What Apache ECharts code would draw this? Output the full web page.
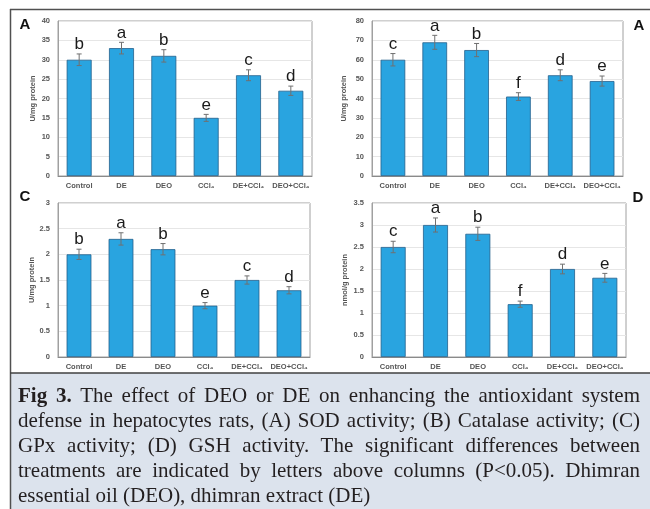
<!DOCTYPE html>
<html>
<head>
<meta charset="utf-8">
<script src="https://cdn.jsdelivr.net/npm/echarts@6/dist/echarts.min.js"></script>
<style>
  html, body { margin: 0; padding: 0; background: #ffffff; }
  #wrap { position: relative; width: 650px; height: 509px; overflow: hidden; }
  #chart { position: absolute; left: 0; top: 0; width: 650px; height: 509px; }
  #caption {
    position: absolute; left: 18px; top: 383px; width: 622px;
    font-family: 'Liberation Serif', 'Times New Roman', serif;
    font-size: 21px; line-height: 25px; color: #231f20;
  }
  #caption .ln { text-align: justify; text-align-last: justify; white-space: nowrap; }
  #caption .ln.last { text-align: left; text-align-last: left; }
</style>
</head>
<body>
<div id="wrap">
  <div id="chart"></div>
  <div id="caption">
    <div class="ln"><b>Fig 3.</b> The effect of DEO or DE on enhancing the antioxidant system</div>
    <div class="ln">defense in hepatocytes rats, (A) SOD activity; (B) Catalase activity; (C)</div>
    <div class="ln">GPx activity; (D) GSH activity. The significant differences between</div>
    <div class="ln">treatments are indicated by letters above columns (P&lt;0.05). Dhimran</div>
    <div class="ln last">essential oil (DEO), dhimran extract (DE)</div>
  </div>
</div>
<script>
const categories = ['Control', 'DE', 'DEO', 'CCl₄', 'DE+CCl₄', 'DEO+CCl₄'];

const sodValues  = [30, 33, 31, 15, 26, 22];
const sodErrors  = [1.5, 1.5, 1.6, 0.9, 1.4, 1.2];
const sodLetters = ['b', 'a', 'b', 'e', 'c', 'd'];

const catValues  = [60, 69, 65, 41, 52, 49];
const catErrors  = [3.2, 3.6, 3.4, 2.0, 2.8, 2.6];
const catLetters = ['c', 'a', 'b', 'f', 'd', 'e'];

const gpxValues  = [2.0, 2.3, 2.1, 1.0, 1.5, 1.3];
const gpxErrors  = [0.1, 0.12, 0.11, 0.06, 0.08, 0.07];
const gpxLetters = ['b', 'a', 'b', 'e', 'c', 'd'];

const gshValues  = [2.5, 3.0, 2.8, 1.2, 2.0, 1.8];
const gshErrors  = [0.13, 0.16, 0.15, 0.07, 0.11, 0.1];
const gshLetters = ['c', 'a', 'b', 'f', 'd', 'e'];

const panelLabels = ['A', 'A', 'C', 'D'];
const yAxisNames = ['U/mg protein', 'U/mg protein', 'U/mg protein', 'nmol/g protein'];
const yMax = [40, 80, 3, 3.5];
const yInterval = [5, 10, 0.5, 0.5];

const panels = [
  { values: sodValues, errors: sodErrors, letters: sodLetters },
  { values: catValues, errors: catErrors, letters: catLetters },
  { values: gpxValues, errors: gpxErrors, letters: gpxLetters },
  { values: gshValues, errors: gshErrors, letters: gshLetters }
];

const grids = [
  { left: 58, top: 21, width: 254, height: 155 },
  { left: 372, top: 21, width: 251, height: 155 },
  { left: 58, top: 203, width: 252, height: 154 },
  { left: 372, top: 203, width: 254, height: 154 }
];
const nameGaps = [21, 24, 22, 23];
const labelPos = [[25, 25], [639, 26], [25, 197], [638, 198]];

const tickFont = { fontFamily: 'Liberation Sans, Arial, sans-serif', fontWeight: 'bold', fontSize: 7.5, color: '#555' };

const option = {
  animation: false,
  backgroundColor: 'transparent',
  grid: grids.map(g => Object.assign({ show: true, borderColor: '#a0a0a0', borderWidth: 1, backgroundColor: '#fff', containLabel: false }, g)),
  xAxis: panels.map((p, i) => ({
    type: 'category', gridIndex: i, data: categories,
    axisLine: { show: true, lineStyle: { color: '#8a8a8a', width: 1 } },
    axisTick: { show: false },
    axisLabel: Object.assign({ margin: 6, interval: 0 }, tickFont),
    splitLine: { show: false }
  })),
  yAxis: panels.map((p, i) => ({
    type: 'value', gridIndex: i, min: 0, max: yMax[i], interval: yInterval[i],
    name: yAxisNames[i], nameLocation: 'middle', nameGap: nameGaps[i], nameRotate: 90,
    nameTextStyle: { fontFamily: 'Liberation Sans, Arial, sans-serif', fontWeight: 'bold', fontSize: 7.5, color: '#555' },
    axisLine: { show: true, lineStyle: { color: '#a0a0a0', width: 1 } },
    axisTick: { show: false },
    axisLabel: Object.assign({ margin: 8 }, tickFont),
    splitLine: { show: true, lineStyle: { color: '#e6e6e6', width: 1 } }
  })),
  series: []
};

panels.forEach((p, i) => {
  option.series.push({
    type: 'bar', xAxisIndex: i, yAxisIndex: i,
    data: p.values, barWidth: '59%',
    itemStyle: { color: '#29a4e0', borderColor: '#23608c', borderWidth: 0.8 },
    z: 2
  });
  option.series.push({
    type: 'custom', xAxisIndex: i, yAxisIndex: i,
    data: p.values.map((v, k) => [k, v, p.errors[k]]),
    z: 3,
    renderItem: function (params, api) {
      const x = api.value(0), v = api.value(1), e = api.value(2);
      const top = api.coord([x, v + e]);
      const bot = api.coord([x, v - e]);
      const cap = 2.5;
      const style = { stroke: '#707070', lineWidth: 1 };
      return {
        type: 'group',
        children: [
          { type: 'line', shape: { x1: top[0], y1: top[1], x2: bot[0], y2: bot[1] }, style: style },
          { type: 'line', shape: { x1: top[0] - cap, y1: top[1], x2: top[0] + cap, y2: top[1] }, style: style },
          { type: 'line', shape: { x1: bot[0] - cap, y1: bot[1], x2: bot[0] + cap, y2: bot[1] }, style: style },
          { type: 'text', x: top[0], y: top[1] - 1,
            style: { text: p.letters[params.dataIndex], fill: '#1a1a1a', fontSize: 17,
                     fontFamily: 'Liberation Sans, Arial, sans-serif', align: 'center', verticalAlign: 'bottom' } }
        ]
      };
    }
  });
});

option.graphic = [
  { type: 'rect', shape: { x: 10, y: 373, width: 640, height: 136 }, style: { fill: '#dce3ed' }, z: 0 },
  { type: 'line', shape: { x1: 10, y1: 9.5, x2: 650, y2: 9.5 }, style: { stroke: '#505050', lineWidth: 1.5 }, z: 10 },
  { type: 'line', shape: { x1: 10.5, y1: 9, x2: 10.5, y2: 509 }, style: { stroke: '#505050', lineWidth: 1.5 }, z: 10 },
  { type: 'line', shape: { x1: 10, y1: 373, x2: 650, y2: 373 }, style: { stroke: '#404040', lineWidth: 1.5 }, z: 10 }
].concat(panelLabels.map((t, i) => ({
  type: 'text', x: labelPos[i][0], y: labelPos[i][1], z: 10,
  style: { text: t, fill: '#111', fontSize: 15, fontWeight: 'bold', fontFamily: 'Liberation Sans, Arial, sans-serif',
           align: 'center', verticalAlign: 'middle' }
})));

const chart = echarts.init(document.getElementById('chart'), null, { renderer: 'canvas' });
chart.setOption(option);
</script>
</body>
</html>
